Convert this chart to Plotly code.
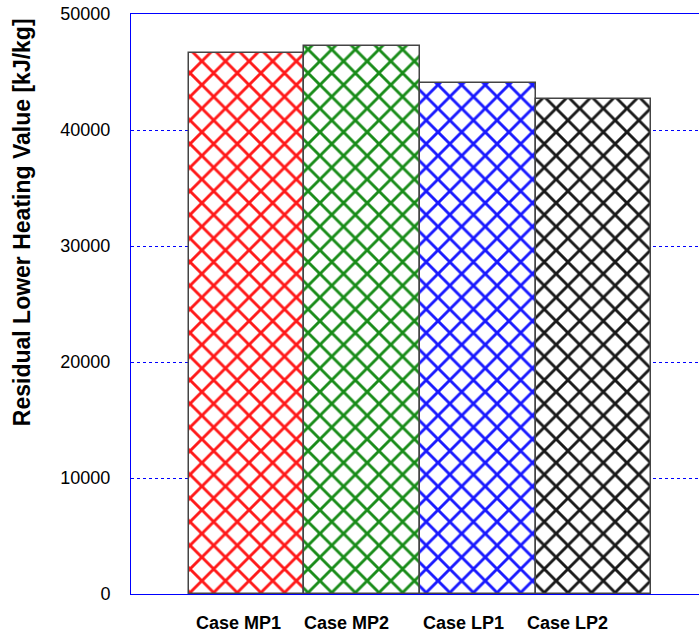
import plotly.graph_objects as go

# Residual lower heating value per case
cases = ["Case MP1", "Case MP2", "Case LP1", "Case LP2"]
lhv_values = [46600, 47250, 44050, 42650]
hatch_colors = ["#ff0000", "#008000", "#0000ff", "#000000"]

y_ticks = [0, 10000, 20000, 30000, 40000, 50000]

FONT = "Arial, Liberation Sans, sans-serif"
AXIS_BLUE = "#0000ff"

positions = list(range(len(cases)))

fig = go.Figure()
fig.add_trace(
    go.Bar(
        x=positions,
        y=lhv_values,
        width=1.0,
        marker=dict(
            color="white",
            line=dict(color="#444444", width=1.5),
            pattern=dict(
                shape="x",
                size=16.7,
                solidity=0.32,
                fgcolor=hatch_colors,
                fgopacity=0.9,
                bgcolor="white",
                fillmode="overlay",
            ),
        ),
        showlegend=False,
        hoverinfo="skip",
    )
)

# category labels sit slightly left of the bar centres
label_xshift = [-8, -16, -14, -26]
annotations = []
for pos, name, dx in zip(positions, cases, label_xshift):
    annotations.append(
        dict(
            x=pos, xref="x",
            y=-0.05, yref="paper",
            text=f"<b>{name}</b>",
            showarrow=False,
            xanchor="center", yanchor="middle",
            xshift=dx,
            font=dict(family=FONT, size=18, color="black"),
        )
    )

# vertical axis title
annotations.append(
    dict(
        x=-0.192, xref="paper",
        y=0.641, yref="paper",
        text="<b>Residual Lower Heating Value [kJ/kg]</b>",
        textangle=-90,
        showarrow=False,
        xanchor="center", yanchor="middle",
        font=dict(family=FONT, size=23, color="black"),
    )
)

fig.update_layout(
    width=699,
    height=636,
    margin=dict(l=131, r=0, t=14, b=42),
    paper_bgcolor="white",
    plot_bgcolor="white",
    bargap=0,
    font=dict(family=FONT, color="black"),
    annotations=annotations,
    xaxis=dict(
        range=[-1, 3.912],
        showline=True,
        linecolor=AXIS_BLUE,
        linewidth=1,
        mirror=True,
        showgrid=False,
        zeroline=False,
        ticks="",
        showticklabels=False,
    ),
    yaxis=dict(
        range=[0, 50000],
        tickvals=y_ticks,
        ticktext=[str(v) for v in y_ticks],
        showline=True,
        linecolor=AXIS_BLUE,
        linewidth=1,
        mirror=False,
        showgrid=True,
        gridcolor=AXIS_BLUE,
        gridwidth=1,
        griddash="3px,3px",
        zeroline=False,
        ticks="",
        ticklabelstandoff=16,
        tickfont=dict(family=FONT, size=18, color="black"),
    ),
)

fig.write_html("out.html")
